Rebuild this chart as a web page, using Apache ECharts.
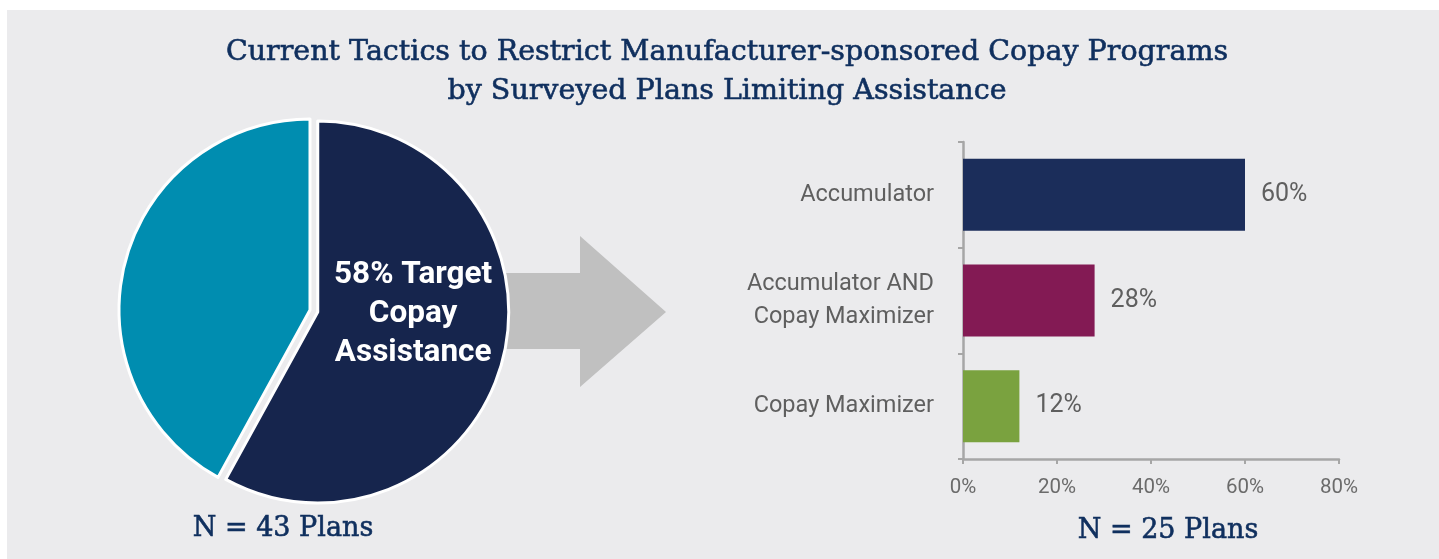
<!DOCTYPE html>
<html><head><meta charset="utf-8">
<script src="https://cdn.jsdelivr.net/npm/echarts@6/dist/echarts.min.js"></script>
<style>html,body{margin:0;padding:0;background:#fff}#c{width:1439px;height:559px}</style>
</head><body><div id="c"></div>
<script>
const titleText = 'Current Tactics to Restrict Manufacturer-sponsored Copay Programs\nby Surveyed Plans Limiting Assistance';
const pieNames = ['Target Copay Assistance', 'Other'];
const pieValues = [58, 42];
const pieColors = ['#16254d', '#008db0'];
const pieNote = 'N = 43 Plans';
const barCategories = ['Accumulator', 'Accumulator AND\nCopay Maximizer', 'Copay Maximizer'];
const barValues = [60, 28, 12];
const barColors = ['#1b2d5a', '#831a54', '#7aa23f'];
const barNote = 'N = 25 Plans';
const xMin = 0, xMax = 80, xInterval = 20;

const serif = '"DejaVu Serif", "Liberation Serif", serif';
const sans = 'Roboto, "Noto Sans", sans-serif';
const navyText = '#0f2f5e';
const axisGrey = '#a6a6a6';
const serifStyle = (size, lh) => ({ fontFamily: serif, fontSize: size, fontWeight: 'normal', color: navyText,
  lineHeight: lh, textBorderColor: navyText, textBorderWidth: 0.6 });

const chart = echarts.init(document.getElementById('c'));
chart.setOption({
  backgroundColor: '#ebebed',
  animation: false,
  title: [
    { text: titleText, left: 727, top: 33, textAlign: 'center', padding: 0, textStyle: serifStyle(28.5, 39) },
    { text: pieNote, left: 283, top: 513, textAlign: 'center', padding: 0, textStyle: serifStyle(27, 32) },
    { text: barNote, left: 1168, top: 515, textAlign: 'center', padding: 0, textStyle: serifStyle(27, 32) }
  ],
  graphic: [
    { type: 'rect', shape: { x: 0, y: 0, width: 1439, height: 10 }, style: { fill: '#ffffff' }, z: 1 },
    { type: 'rect', shape: { x: 0, y: 0, width: 7, height: 559 }, style: { fill: '#ffffff' }, z: 1 },
    { type: 'polygon', z: 1,
      shape: { points: [[500, 273], [580, 273], [580, 236], [666, 312], [580, 387], [580, 349], [500, 349]] },
      style: { fill: '#c0c0c0' } }
  ],
  grid: { left: 963, right: 100, top: 142, bottom: 100, containLabel: false },
  xAxis: {
    type: 'value', min: xMin, max: xMax, interval: xInterval,
    axisLine: { show: true, lineStyle: { color: axisGrey, width: 2.5 } },
    axisTick: { show: true, length: 5, lineStyle: { color: axisGrey, width: 2 } },
    splitLine: { show: false },
    axisLabel: { formatter: '{value}%', fontFamily: sans, fontSize: 20.5, color: '#6b6b6b', margin: 18 }
  },
  yAxis: {
    type: 'category', inverse: true, data: barCategories,
    axisLine: { show: true, lineStyle: { color: axisGrey, width: 2.5 } },
    axisTick: { show: true, length: 5, lineStyle: { color: axisGrey, width: 2 } },
    splitLine: { show: false },
    axisLabel: { fontFamily: sans, fontSize: 23.5, color: '#5f5f5f', margin: 29, lineHeight: 33, align: 'right' }
  },
  series: [
    {
      type: 'bar', barWidth: 72, z: 3,
      data: barValues.map((v, i) => ({ value: v, itemStyle: { color: barColors[i] } })),
      label: { show: true, position: 'right', distance: 16, formatter: '{c}%',
        fontFamily: sans, fontSize: 25, color: '#5f5f5f' }
    },
    {
      type: 'pie', z: 2, center: [310, 310], radius: 191, startAngle: 90, clockwise: true,
      selectedMode: 'single', selectedOffset: 8,
      emphasis: { disabled: true },
      itemStyle: { borderColor: '#ffffff', borderWidth: 3 },
      labelLine: { show: false },
      data: pieValues.map((v, i) => ({
        name: pieNames[i], value: v, selected: i === 0,
        itemStyle: { color: pieColors[i] },
        select: { itemStyle: { color: pieColors[i], borderColor: '#ffffff', borderWidth: 3 } },
        label: i === 0 ? {
          show: true, position: 'inside',
          formatter: p => p.value + '% Target\nCopay\nAssistance\n{s| }',
          rich: { s: { fontSize: 2, lineHeight: 44 } },
          fontFamily: sans, fontWeight: 'bold', fontSize: 31.5,
          lineHeight: 39, color: '#ffffff', align: 'center'
        } : { show: false }
      }))
    }
  ]
});
</script></body></html>
